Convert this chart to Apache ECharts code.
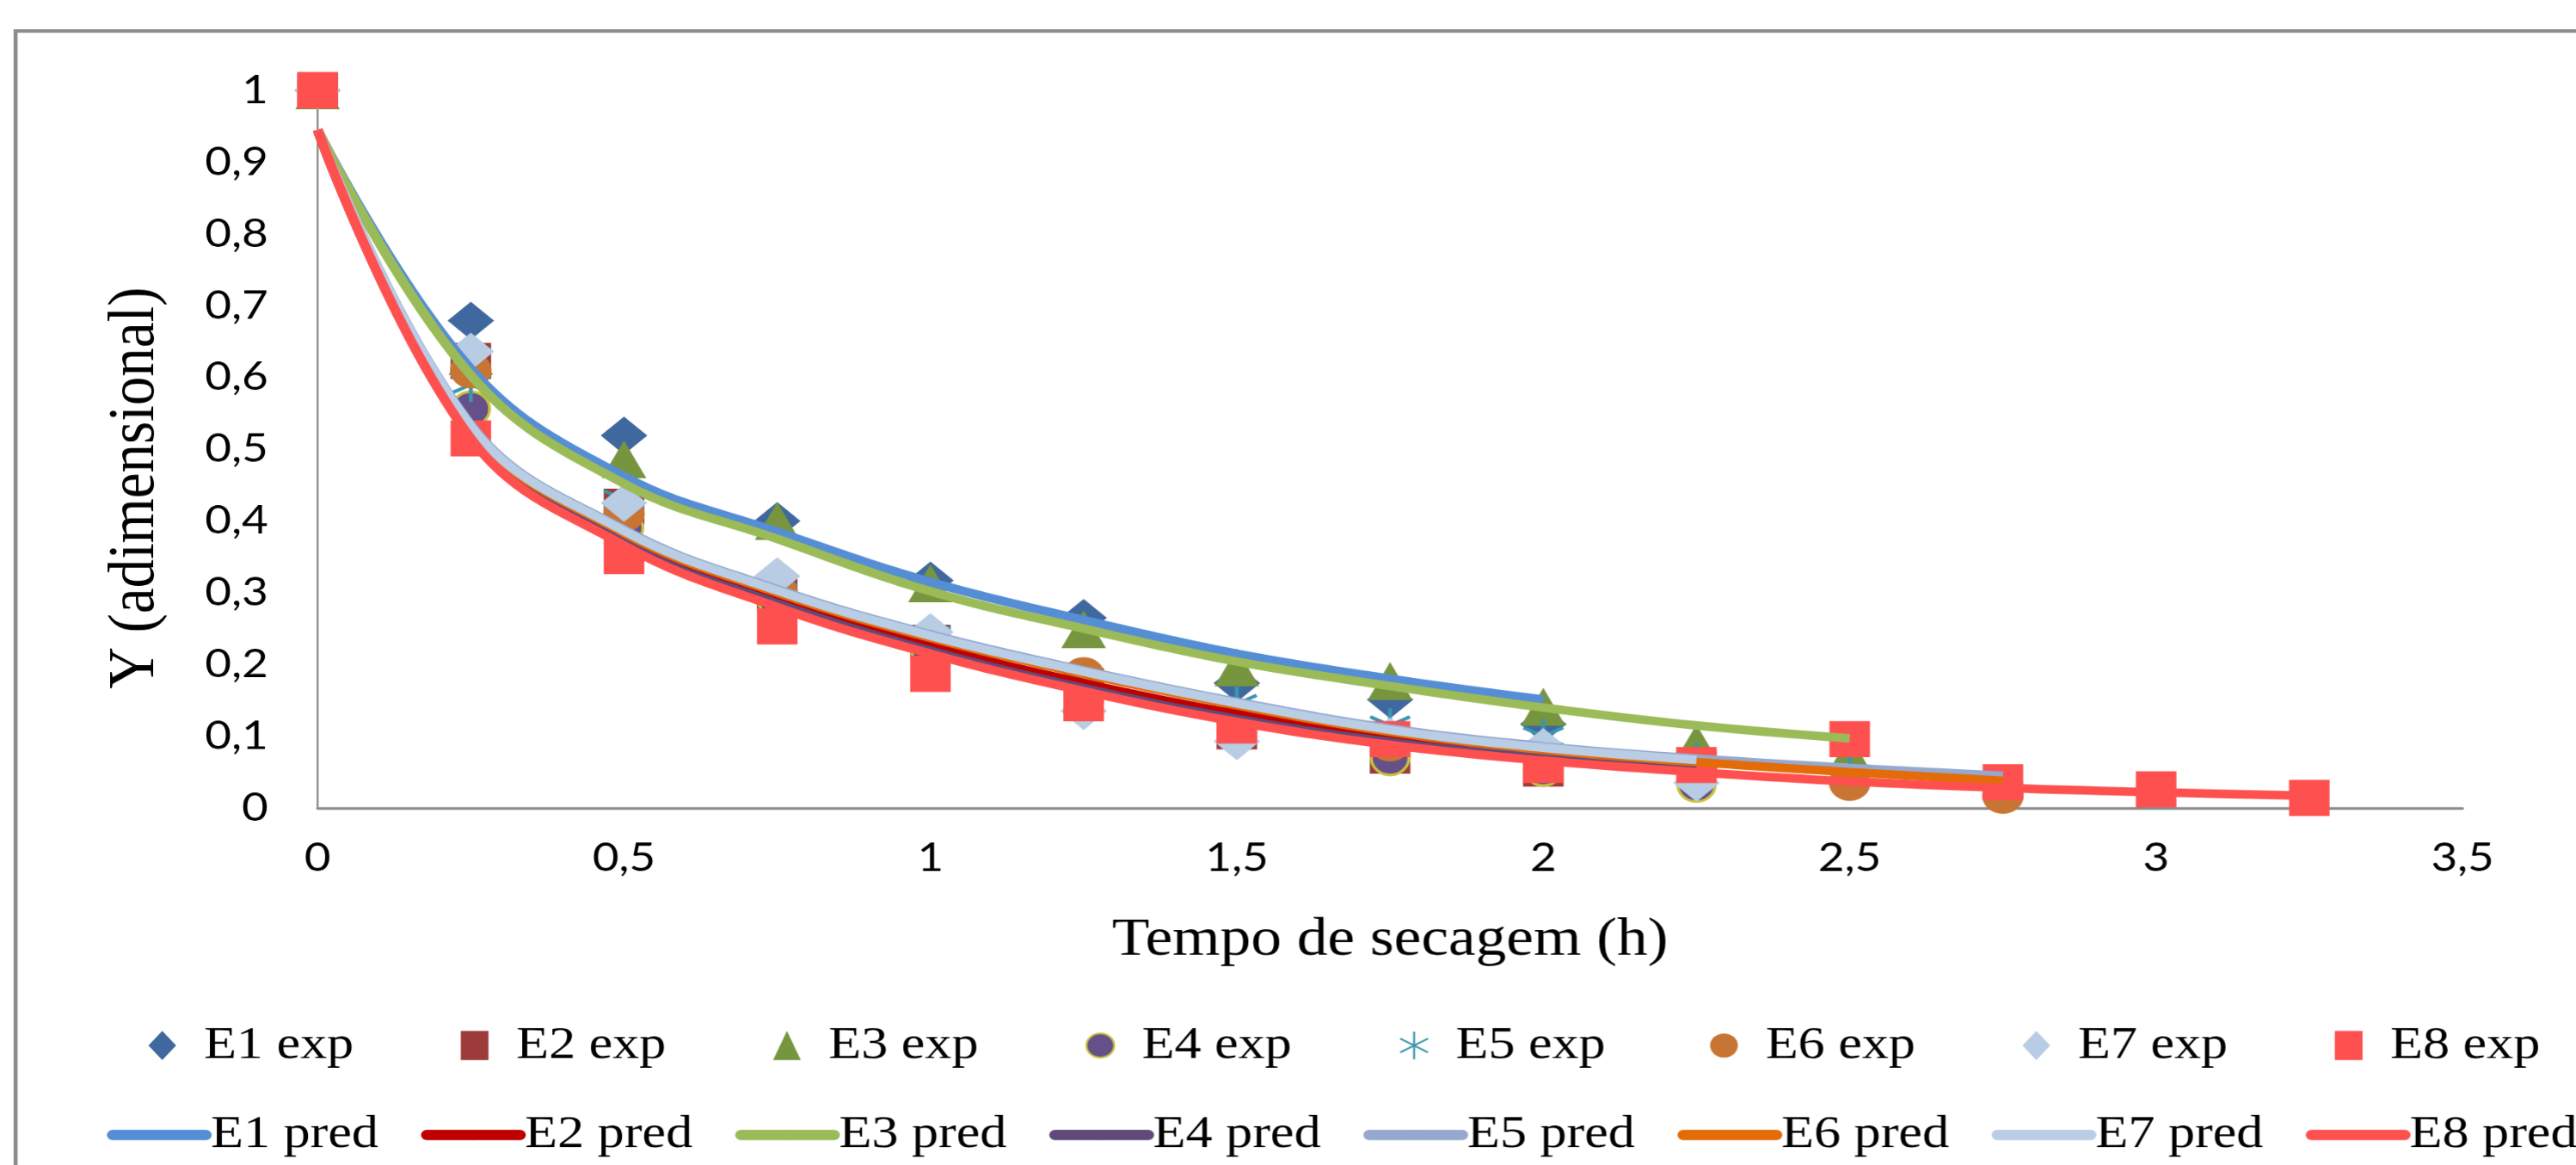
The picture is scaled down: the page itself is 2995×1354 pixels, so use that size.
<!DOCTYPE html>
<html>
<head>
<meta charset="utf-8">
<script src="https://cdn.jsdelivr.net/npm/echarts@6/dist/echarts.min.js"></script>
<style>
  html, body { margin: 0; padding: 0; background: #fff; overflow: hidden; }
  /* the original figure is stretched horizontally, so draw narrower and stretch */
  #chart-panel { width: 2605px; height: 1354px; transform: scaleX(1.15); transform-origin: 0 0; }
</style>
</head>
<body>
<div id="chart-panel"></div>
<script>
var chart = echarts.init(document.getElementById('chart-panel'), null, { devicePixelRatio: 1.15 });

// tempo de secagem (h)
var times = [0, 0.25, 0.5, 0.75, 1, 1.25, 1.5, 1.75, 2, 2.25, 2.5, 2.75, 3, 3.25];
var xTicks = [0, 0.5, 1, 1.5, 2, 2.5, 3, 3.5];

var expNames = ['E1 exp', 'E2 exp', 'E3 exp', 'E4 exp', 'E5 exp', 'E6 exp', 'E7 exp', 'E8 exp'];
var predNames = ['E1 pred', 'E2 pred', 'E3 pred', 'E4 pred', 'E5 pred', 'E6 pred', 'E7 pred', 'E8 pred'];

var e1Exp = [1, 0.679, 0.519, 0.40, 0.317, 0.265, 0.174, 0.151, 0.117];
var e2Exp = [1, 0.623, 0.42, 0.30, 0.23, 0.17, 0.107, 0.073, 0.055];
var e3Exp = [1, 0.63, 0.486, 0.40, 0.313, 0.249, 0.196, 0.177, 0.141, 0.09, 0.075];
var e4Exp = [1, 0.556, 0.39, 0.29, 0.22, 0.165, 0.115, 0.07, 0.055, 0.033];
var e5Exp = [1, 0.59, 0.43, 0.30, 0.24, 0.18, 0.145, 0.115, 0.1, 0.067, 0.047, 0.025];
var e6Exp = [1, 0.61, 0.41, 0.30, 0.235, 0.185, 0.12, 0.09, 0.07, 0.055, 0.035, 0.017];
var e7Exp = [1, 0.636, 0.425, 0.323, 0.245, 0.135, 0.093, 0.1, 0.085, 0.035];
var e8Exp = [1, 0.515, 0.351, 0.253, 0.187, 0.146, 0.115, 0.096, 0.06, 0.06, 0.096, 0.036, 0.026, 0.014];

// valores preditos pelo modelo
var e1Pred = [0.945, 0.612, 0.462, 0.385, 0.315, 0.262, 0.215, 0.18, 0.151];
var e2Pred = [0.945, 0.522, 0.375, 0.292, 0.226, 0.174, 0.131, 0.098, 0.075];
var e3Pred = [0.945, 0.603, 0.452, 0.375, 0.302, 0.25, 0.204, 0.17, 0.14, 0.115, 0.097];
var e4Pred = [0.945, 0.518, 0.369, 0.285, 0.219, 0.167, 0.124, 0.092, 0.07, 0.055];
var e5Pred = [0.945, 0.534, 0.388, 0.305, 0.242, 0.192, 0.148, 0.111, 0.086, 0.069, 0.056, 0.045];
var e6Pred = [0.945, 0.53, 0.383, 0.3, 0.237, 0.187, 0.143, 0.106, 0.081, 0.064, 0.05, 0.038];
var e7Pred = [0.945, 0.532, 0.386, 0.303, 0.24, 0.19, 0.146, 0.109, 0.084, 0.067];
var e8Pred = [0.945, 0.515, 0.366, 0.28, 0.215, 0.163, 0.12, 0.088, 0.066, 0.05, 0.037, 0.028, 0.022, 0.017];

var expData = [e1Exp, e2Exp, e3Exp, e4Exp, e5Exp, e6Exp, e7Exp, e8Exp];
var predData = [e1Pred, e2Pred, e3Pred, e4Pred, e5Pred, e6Pred, e7Pred, e8Pred];

var asterisk = 'path://M0,-10 L0,10 M-8.66,-5 L8.66,5 M-8.66,5 L8.66,-5';

var expStyle = [
    { symbol: 'diamond', size: [47, 44], color: '#3F689E' },
    { symbol: 'rect', size: [41, 42], color: '#9C3B3A' },
    { symbol: 'triangle', size: [45, 44], color: '#76953E' },
    { symbol: 'circle', size: [38, 40], color: '#65508A', border: '#C9C23C', bw: 3 },
    { symbol: asterisk, size: [40, 40], color: 'none', border: '#3B95AC', bw: 4 },
    { symbol: 'circle', size: [42, 42], color: '#C87534' },
    { symbol: 'diamond', size: [47, 44], color: '#B8CCE4' },
    { symbol: 'rect', size: [41, 42], color: '#FF5050' }
];
var predColors = ['#558ED5', '#C00000', '#9BBB59', '#604A7B', '#95A9CF', '#E36C09', '#B9CDE5', '#FF5050'];

var serif = 'Liberation Serif';

function pairs(vals) {
    return vals.map(function(v, i) { return [times[i], v]; });
}

var series = [];
var legends = [];
for (var i = 0; i < 8; i++) {
    var st = expStyle[i];
    series.push({
        name: expNames[i],
        type: 'scatter',
        z: 2,
        symbol: st.symbol,
        symbolSize: st.size,
        itemStyle: {
            color: st.color,
            borderColor: st.border || st.color,
            borderWidth: st.bw || 0,
            opacity: 1
        },
        data: pairs(expData[i])
    });
    legends.push({
        data: [expNames[i]],
        left: 145 + 315.7 * i,
        top: 1183,
        itemWidth: 28,
        itemHeight: 34,
        textStyle: { fontFamily: serif, fontSize: 54, color: '#000', padding: [0, 0, 0, 23] }
    });
}
for (var j = 0; j < 8; j++) {
    series.push({
        name: predNames[j],
        type: 'line',
        z: 3,
        symbol: 'none',
        showSymbol: false,
        smooth: 0.4,
        lineStyle: { color: predColors[j], width: 10 },
        itemStyle: { color: predColors[j] },
        data: pairs(predData[j])
    });
    legends.push({
        data: [predNames[j]],
        left: 103 + 317.5 * j,
        top: 1287,
        itemWidth: 94,
        itemHeight: 14,
        lineStyle: { width: 12, cap: 'round' },
        textStyle: { fontFamily: serif, fontSize: 54, color: '#000' }
    });
}

var option = {
    backgroundColor: '#fff',
    animation: false,
    grid: { left: 321, right: 116, top: 105, bottom: 415 },
    graphic: [{
        type: 'rect',
        shape: { x: 15.7, y: 36, width: 3000, height: 1500 },
        style: { fill: 'none', stroke: '#8c8c8c', lineWidth: 4 },
        silent: true
    }, {
        type: 'text',
        x: 137,
        y: 567,
        rotation: Math.PI / 2,
        silent: true,
        style: {
            text: 'Y (adimensional)',
            fontFamily: serif,
            fontSize: 67,
            fill: '#000',
            align: 'center',
            verticalAlign: 'middle'
        }
    }],
    legend: legends,
    xAxis: {
        type: 'value',
        min: 0,
        max: 3.5,
        interval: 0.5,
        name: 'Tempo de secagem (h)',
        nameLocation: 'middle',
        nameGap: 123,
        nameTextStyle: { fontFamily: serif, fontSize: 62, color: '#000' },
        axisLine: { show: true, lineStyle: { color: '#8c8c8c', width: 3 } },
        axisTick: { show: false },
        splitLine: { show: false },
        axisLabel: {
            margin: 35,
            fontFamily: 'Lato',
            fontSize: 46,
            color: '#000',
            formatter: function(v) { return xTicks.indexOf(v) >= 0 ? String(v).replace('.', ',') : ''; }
        }
    },
    yAxis: {
        type: 'value',
        min: 0,
        max: 1,
        interval: 0.1,
        axisLine: { show: true, lineStyle: { color: '#8c8c8c', width: 2 } },
        axisTick: { show: false },
        splitLine: { show: false },
        axisLabel: {
            margin: 50,
            fontFamily: 'Lato',
            fontSize: 46,
            color: '#000',
            formatter: function(v) { return String(Math.round(v * 10) / 10).replace('.', ','); }
        }
    },
    series: series
};

chart.setOption(option);
</script>
</body>
</html>
